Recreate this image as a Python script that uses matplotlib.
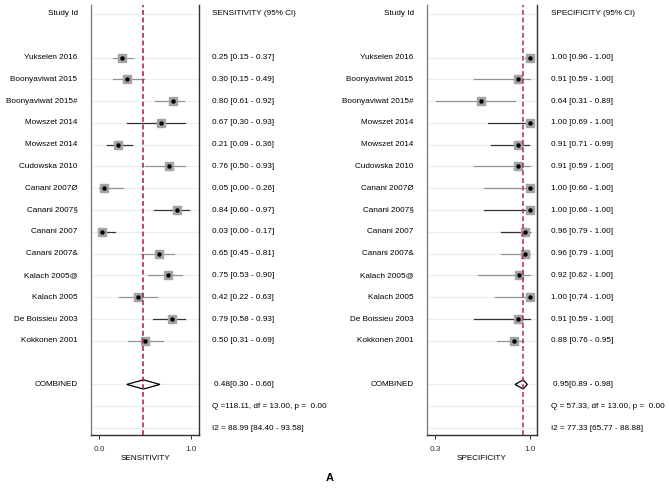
import numpy as np
import matplotlib
matplotlib.use('Agg')
import matplotlib.pyplot as plt
from matplotlib.transforms import blended_transform_factory
from matplotlib.patches import Polygon

plt.rcParams['font.family'] = ['Liberation Sans', 'DejaVu Sans']

studies = ['Yukselen 2016', 'Boonyaviwat 2015', 'Boonyaviwat 2015#', 'Mowszet 2014',
           'Mowszet 2014', 'Cudowska 2010', 'Canani 2007\u00d8', 'Canani 2007\u00a7',
           'Canani 2007', 'Canani 2007&', 'Kalach 2005@', 'Kalach 2005',
           'De Boissieu 2003', 'Kokkonen 2001']
# dark CI line for some studies, gray for the rest
dark_ci = [False, False, False, True, True, False, False, True, True, False, False, False, True, False]

sens = [0.25, 0.30, 0.80, 0.67, 0.21, 0.76, 0.05, 0.84, 0.03, 0.65, 0.75, 0.42, 0.79, 0.50]
sens_lo = [0.15, 0.15, 0.61, 0.30, 0.09, 0.50, 0.00, 0.60, 0.00, 0.45, 0.53, 0.22, 0.58, 0.31]
sens_hi = [0.37, 0.49, 0.92, 0.93, 0.36, 0.93, 0.26, 0.97, 0.17, 0.81, 0.90, 0.63, 0.93, 0.69]

spec = [1.00, 0.91, 0.64, 1.00, 0.91, 0.91, 1.00, 1.00, 0.96, 0.96, 0.92, 1.00, 0.91, 0.88]
spec_lo = [0.96, 0.59, 0.31, 0.69, 0.71, 0.59, 0.66, 0.66, 0.79, 0.79, 0.62, 0.74, 0.59, 0.76]
spec_hi = [1.00, 1.00, 0.89, 1.00, 0.99, 1.00, 1.00, 1.00, 1.00, 1.00, 1.00, 1.00, 1.00, 0.95]

sens_comb = (0.48, 0.30, 0.66)
spec_comb = (0.95, 0.89, 0.98)
sens_het = ['Q =118.11, df = 13.00, p =  0.00', 'I2 = 88.99 [84.40 - 93.58]']
spec_het = ['Q = 57.33, df = 13.00, p =  0.00', 'I2 = 77.33 [65.77 - 88.88]']

W, H = 669, 488
fig = plt.figure(figsize=(W / 100, H / 100), dpi=100)

FS = 5.9
study_rows = np.arange(2, 16)
comb_row = 17
grid_rows = [0] + list(study_rows) + [17, 18, 19]


def panel(x0, x1, xlim, ticks, ticklabels, xlabel, header,
          est, lo, hi, comb, het, label_x, text_x, refcol):
    ax = fig.add_axes([x0 / W, 1 - 435 / H, (x1 - x0) / W, 430 / H])
    ax.set_xlim(*xlim)
    ax.set_ylim(19.32, -0.41)
    for r in grid_rows:
        ax.axhline(r, color='#e9edf1', lw=0.8, zorder=0)
    for i, r in enumerate(study_rows):
        c = '#333333' if dark_ci[i] else '#929292'
        ax.plot([lo[i], hi[i]], [r, r], color=c, lw=0.9, zorder=2)
        ax.plot(est[i], r, 's', ms=6, color='#a3a3a3', mec='#a3a3a3', zorder=3)
        ax.plot(est[i], r, 'o', ms=2.2, color='black', zorder=4)
    m, l, h = comb
    ax.add_patch(Polygon([[l, comb_row], [m, comb_row - 0.21], [h, comb_row], [m, comb_row + 0.21]],
                         closed=True, fill=False, ec='black', lw=0.9, zorder=3))
    ax.axvline(m, color=refcol, lw=1.1, ls=(0, (3.2, 1.8)), zorder=5)

    ax.spines['top'].set_visible(False)
    ax.spines['left'].set_color('#808080')
    ax.spines['right'].set_color('#303030')
    ax.spines['bottom'].set_color('#303030')
    for s in ('left', 'right', 'bottom'):
        ax.spines[s].set_linewidth(1.0)
    ax.set_yticks([])
    ax.set_xticks(ticks)
    ax.set_xticklabels(ticklabels, fontsize=FS)
    ax.tick_params(axis='x', length=3, width=0.7, pad=5, colors='#303030')
    ax.set_xlabel(xlabel, fontsize=FS, labelpad=1)

    tl = blended_transform_factory(fig.transFigure, ax.transData)
    ax.text(label_x / W, 0, 'Study Id', transform=tl, ha='right', va='center', fontsize=FS, clip_on=False)
    ax.text(text_x / W, 0, header, transform=tl, ha='left', va='center', fontsize=FS, clip_on=False)
    for i, r in enumerate(study_rows):
        ax.text(label_x / W, r, studies[i], transform=tl, ha='right', va='center', fontsize=FS, clip_on=False)
        ax.text(text_x / W, r, '%.2f [%.2f - %.2f]' % (est[i], lo[i], hi[i]), transform=tl,
                ha='left', va='center', fontsize=FS, clip_on=False)
    ax.text(label_x / W, comb_row, 'COMBINED', transform=tl, ha='right', va='center', fontsize=FS, clip_on=False)
    ax.text((text_x + 2) / W, comb_row, '%.2f[%.2f - %.2f]' % comb, transform=tl,
            ha='left', va='center', fontsize=FS, clip_on=False)
    ax.text(text_x / W, 18, het[0], transform=tl, ha='left', va='center', fontsize=FS, clip_on=False)
    ax.text(text_x / W, 19, het[1], transform=tl, ha='left', va='center', fontsize=FS, clip_on=False)
    return ax


panel(91, 199, (-0.087, 1.083), [0.0, 1.0], ['0.0', '1.0'], 'SENSITIVITY',
      'SENSITIVITY (95% CI)', sens, sens_lo, sens_hi, sens_comb, sens_het, 77.5, 212.5, '#9f1d30')
panel(426.7, 537.3, (0.239, 1.054), [0.3, 1.0], ['0.3', '1.0'], 'SPECIFICITY',
      'SPECIFICITY (95% CI)', spec, spec_lo, spec_hi, spec_comb, spec_het, 413.5, 551, '#ac2b5a')

fig.text(330 / W, 1 - 478 / H, 'A', ha='center', va='center', fontsize=8, fontweight='bold')

fig.savefig('out.png', dpi=100)
